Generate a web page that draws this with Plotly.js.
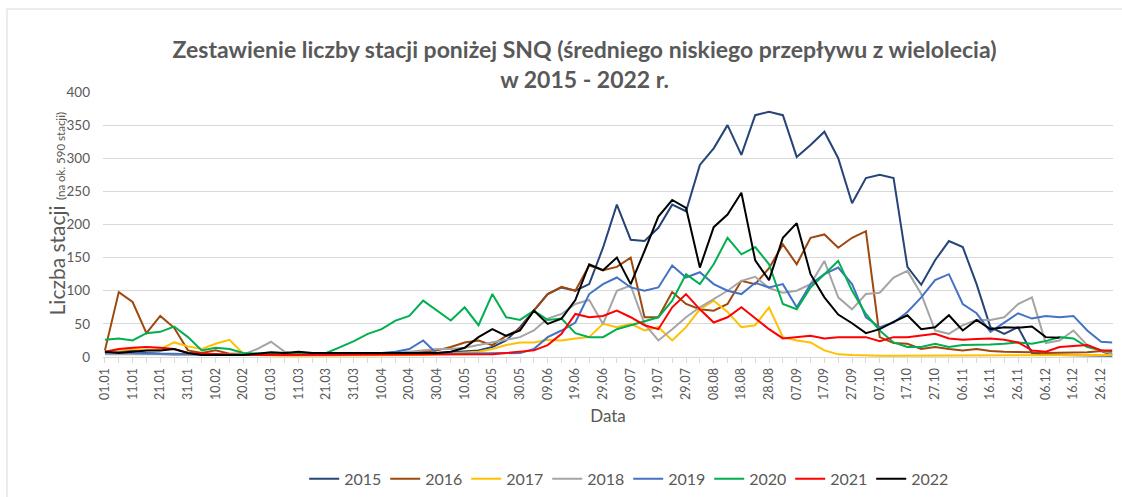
<!DOCTYPE html>
<html>
<head>
<meta charset="utf-8">
<script src="https://cdn.plot.ly/plotly-3.0.1.min.js"></script>
<style>
  html, body { margin: 0; padding: 0; background: #ffffff; }
  #chart { width: 1122px; height: 497px; }
</style>
</head>
<body>
<div id="chart"></div>
<script>
// Day of year (0 = 01.01) for each sampled value
const days = [0,5,10,15,20,25,30,35,40,45,50,55,60,65,70,75,80,85,90,95,100,105,110,115,120,125,130,135,140,145,150,155,160,165,170,175,180,185,190,195,200,205,210,215,220,225,230,235,240,245,250,255,260,265,270,275,280,285,290,295,300,305,310,315,320,325,330,335,340,345,350,355,360,364];

const tickDays = [0,10,20,30,40,50,60,70,80,90,100,110,120,130,140,150,160,170,180,190,200,210,220,230,240,250,260,270,280,290,300,310,320,330,340,350,360];
const tickLabels = ["01.01","11.01","21.01","31.01","10.02","20.02","01.03","11.03","21.03","31.03","10.04","20.04","30.04","10.05","20.05","30.05","09.06","19.06","29.06","09.07","19.07","29.07","08.08","18.08","28.08","07.09","17.09","27.09","07.10","17.10","27.10","06.11","16.11","26.11","06.12","16.12","26.12"];

const y2015 = [8,8,10,6,5,5,5,4,3,3, 3,3,3,3,4,4,4,4,5,5, 5,5,5,6,6,7,8,10,15,25, 45,70,95,105,100,110,165,230,177,175, 195,230,220,290,315,350,305,365,370,365, 302,320,340,300,232,270,275,270,136,109, 146,175,166,110,45,35,45,6,3,3, 3,3,3,2];
const y2016 = [10,98,83,36,62,44,10,6,10,5, 5,4,4,4,4,4,4,4,4,5, 5,6,6,8,10,15,22,25,18,32, 42,70,95,106,100,138,131,136,150,60, 60,98,80,72,70,80,115,110,134,170, 140,180,185,165,180,190,30,21,20,12, 15,12,10,12,9,8,8,7,6,6, 6,7,9,3];
const y2017 = [8,10,12,10,12,22,16,12,20,26, 5,3,2,2,2,2,2,2,2,2, 2,2,3,3,4,5,6,8,12,18, 22,22,26,25,28,30,50,45,50,40, 45,25,45,72,85,68,45,48,75,30, 25,22,10,4,3,2,2,2,2,2, 3,2,2,2,2,2,2,2,2,2, 2,3,3,3];
const y2018 = [4,4,5,4,4,3,3,3,3,3, 4,12,23,8,3,3,3,4,4,5, 5,6,8,10,12,12,14,18,22,26, 30,40,58,65,80,86,50,100,108,50, 25,42,60,75,88,100,115,121,104,97, 100,110,145,90,72,95,97,120,130,95, 40,35,48,56,56,60,80,90,21,25, 40,18,10,5];
const y2019 = [6,7,6,5,5,5,4,4,3,3, 3,3,3,3,3,4,4,4,5,5, 6,8,12,25,5,5,5,5,5,5, 6,12,30,40,52,95,110,120,105,100, 105,138,120,128,110,100,95,112,105,110, 75,110,125,135,110,60,45,52,68,90, 116,125,80,66,38,52,66,58,62,60, 62,40,23,22];
const y2020 = [26,28,25,36,38,46,30,10,14,12, 6,5,4,4,5,6,6,15,24,35, 42,55,62,85,70,55,75,48,95,60, 56,70,56,58,36,30,30,42,48,54, 60,85,125,110,140,180,155,166,140,80, 72,105,125,145,100,65,40,22,15,15, 20,15,18,18,19,20,22,20,24,30, 28,15,10,8];
const y2021 = [8,12,14,15,14,12,6,5,4,3, 3,3,3,3,3,3,3,3,3,3, 3,3,3,3,3,4,4,4,4,6, 8,10,18,35,65,60,62,70,60,48, 42,75,95,72,52,60,75,58,42,28, 30,32,28,30,30,30,24,30,30,32, 35,28,26,27,28,26,22,10,8,15, 16,18,10,10];
const y2022 = [8,6,8,10,10,12,6,3,3,3, 3,5,7,6,8,6,6,6,5,5, 6,5,5,6,6,8,14,30,42,32, 40,70,50,58,86,140,131,150,110,160, 212,237,225,135,196,215,248,146,116,180, 202,125,90,64,51,36,42,53,63,42, 45,63,40,56,42,45,44,46,30,29, null,null,null,null];

const seriesNames = ["2015","2016","2017","2018","2019","2020","2021","2022"];
const seriesValues = [y2015,y2016,y2017,y2018,y2019,y2020,y2021,y2022];
const seriesColors = ["#264478","#9E480E","#FFC000","#A5A5A5","#4472C4","#00B050","#FF0000","#000000"];

const FONT = "Lato, 'Open Sans', sans-serif";
const GREY = "#595959";

const traces = seriesNames.map((name, i) => ({
  type: "scatter",
  mode: "lines",
  name: name,
  x: days,
  y: seriesValues[i],
  line: { color: seriesColors[i], width: 2 },
  connectgaps: false,
  hoverinfo: "x+y+name"
}));

// ticks every 5 days, labels every 10 days
const allTickVals = [];
const allTickText = [];
tickDays.forEach((d, i) => {
  allTickVals.push(d); allTickText.push(tickLabels[i]);
  if (d + 5 <= 364) { allTickVals.push(d + 5); allTickText.push(""); }
});

const layout = {
  width: 1122,
  height: 497,
  paper_bgcolor: "#ffffff",
  plot_bgcolor: "#ffffff",
  margin: { l: 103, r: 9, t: 92, b: 140, autoexpand: false },
  font: { family: FONT, color: GREY },
  title: {
    text: "<b>Zestawienie liczby stacji poniżej SNQ (średniego niskiego przepływu z wielolecia)</b><br><b>w 2015 - 2022 r.</b>",
    font: { family: FONT, size: 23, color: GREY },
    x: 0.521, xref: "container", xanchor: "center",
    y: 1 - 58 / 497, yref: "container", yanchor: "middle"
  },
  xaxis: {
    range: [-0.7, 364.3],
    automargin: false,
    tickmode: "array",
    tickvals: allTickVals,
    ticktext: allTickText,
    tickangle: -90,
    tickfont: { family: FONT, size: 12.5, color: GREY },
    ticks: "outside", ticklen: 5, tickcolor: "#d9d9d9", tickwidth: 1,
    showgrid: false,
    showline: true, linecolor: "#d9d9d9", linewidth: 1,
    zeroline: false,
    title: { text: "Data", font: { family: FONT, size: 17, color: GREY }, standoff: 11 }
  },
  yaxis: {
    range: [0, 400],
    automargin: false,
    tickvals: [0,50,100,150,200,250,300,350,400],
    tickfont: { family: FONT, size: 13.5, color: GREY },
    showgrid: true, gridcolor: "#d9d9d9", gridwidth: 1,
    zeroline: false, showline: false,
    ticks: "", ticklabelstandoff: 12
  },
  legend: {
    orientation: "h",
    x: 0.52, xanchor: "center",
    y: -0.46, yanchor: "middle",
    font: { family: FONT, size: 16, color: GREY },
    itemwidth: 30,
    entrywidth: 36, entrywidthmode: "pixels",
    traceorder: "normal"
  },
  annotations: [{
    text: "Liczba stacji <span style='font-size:11.5px'>(na ok. 590 stacji)</span>",
    textangle: -90,
    xref: "paper", yref: "paper",
    x: -0.046, y: 0.54,
    xanchor: "center", yanchor: "middle",
    showarrow: false,
    font: { family: FONT, size: 21, color: GREY }
  }],
  shapes: [{
    type: "rect", xref: "paper", yref: "paper",
    x0: (7 - 103) / 1010, x1: (1130 - 103) / 1010,
    y0: (357 - 505) / 265, y1: (357 - 9) / 265,
    line: { color: "#d9d9d9", width: 1 },
    fillcolor: "rgba(0,0,0,0)",
    layer: "below"
  }],
  showlegend: true
};

Plotly.newPlot("chart", traces, layout, { displayModeBar: false, responsive: false });
</script>
</body>
</html>
